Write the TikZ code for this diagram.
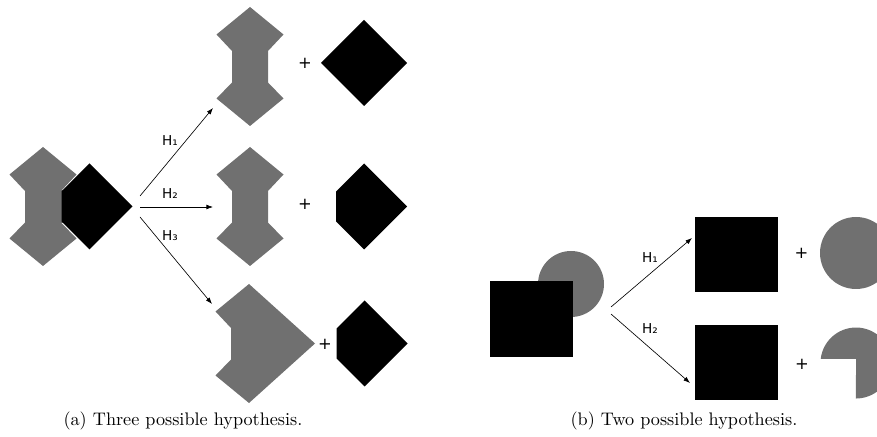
\documentclass[tikz,border=0pt]{standalone}
\usepackage{fontspec}
\usetikzlibrary{arrows.meta}
\newfontfamily\labelfont{DejaVu Sans}
\definecolor{shapegray}{RGB}{112,112,112}

\begin{document}
\begin{tikzpicture}
    [x=0.55pt, y=-0.55pt,
     grayshape/.style={fill=shapegray},
     blackshape/.style={fill=black},
     hyp/.style={-{Latex[length=3.6pt,width=2.6pt]}, line width=0.35pt},
     hlabel/.style={font=\labelfont\fontsize{7.5}{9}\selectfont, inner sep=0pt},
     plussign/.style={font=\labelfont\fontsize{9}{10}\selectfont, inner sep=0pt},
     captiontext/.style={inner sep=0pt},
     hourglass/.pic={\fill[grayshape] (0,-59.5) -- (33.5,-32) -- (18,-15.5) -- (18,16)
        -- (33.5,32) -- (0,59.5) -- (-33.5,32) -- (-18,16) -- (-18,-15.5) -- (-33.5,-32) -- cycle;},
     chevron/.pic={\fill[grayshape] (0,-59.5) -- (66,0) -- (0,59.5) -- (-33.5,32)
        -- (-18,16) -- (-18,-15.5) -- (-33.5,-32) -- cycle;},
     blackdiamond/.pic={\fill[blackshape] (0,-43) -- (43,0) -- (0,43) -- (-43,0) -- cycle;},
     cutdiamond/.pic={\fill[blackshape] (0,-43) -- (43,0) -- (0,43) -- (-28,15) -- (-28,-15) -- cycle;}]
    \useasboundingbox (0,0) rectangle (877,437);
    \clip (0,0) rectangle (877,437);

    % (a) three hypotheses
    \pic at (43,206.5) {hourglass};
    \fill[grayshape] (60,190) rectangle (64,223);
    \pic at (89.5,206.5) {cutdiamond};
    \pic at (250,66.5) {hourglass};
    \pic at (364,63) {blackdiamond};
    \pic at (250,206.5) {hourglass};
    \pic at (364,206.5) {cutdiamond};
    \pic at (249,343.5) {chevron};
    \pic at (364.5,343.5) {cutdiamond};

    \coordinate (aout1) at (140,196);
    \coordinate (aout2) at (140,207);
    \coordinate (aout3) at (140,217);
    \coordinate (ain1) at (213,108);
    \coordinate (ain2) at (213,207);
    \coordinate (ain3) at (212,304);
    \draw[hyp] (aout1) -- (ain1);
    \draw[hyp] (aout2) -- (ain2);
    \draw[hyp] (aout3) -- (ain3);
    \node[hlabel] (ha1) at (170,141) {H₁};
    \node[hlabel] (ha2) at (170,194) {H₂};
    \node[hlabel] (ha3) at (170,236) {H₃};
    \node[plussign] (pa1) at (305,63) {+};
    \node[plussign] (pa2) at (305,204) {+};
    \node[plussign] (pa3) at (325,344) {+};

    % (b) two hypotheses
    \fill[grayshape] (571,284) circle[radius=33];
    \fill[blackshape] (490,281) rectangle (573,357);
    \fill[blackshape] (695,217) rectangle (778,292);
    \fill[grayshape] (856,253) circle[radius=36];
    \fill[blackshape] (695,325) rectangle (778,400);
    \fill[grayshape] (856,359) -- (820.7,359) arc[start angle=186.5, end angle=450, radius=35.5] -- cycle;

    \coordinate (bout1) at (611,307);
    \coordinate (bout2) at (611,314);
    \coordinate (bin1) at (692,238);
    \coordinate (bin2) at (690,383);
    \draw[hyp] (bout1) -- (bin1);
    \draw[hyp] (bout2) -- (bin2);
    \node[hlabel] (hb1) at (650,258) {H₁};
    \node[hlabel] (hb2) at (650,329) {H₂};
    \node[plussign] (pb1) at (801.5,253) {+};
    \node[plussign] (pb2) at (802,364) {+};

    \node[captiontext] (capa) at (183,421) {(a) Three possible hypothesis.};
    \node[captiontext] (capb) at (684,421) {(b) Two possible hypothesis.};
\end{tikzpicture}
\end{document}
